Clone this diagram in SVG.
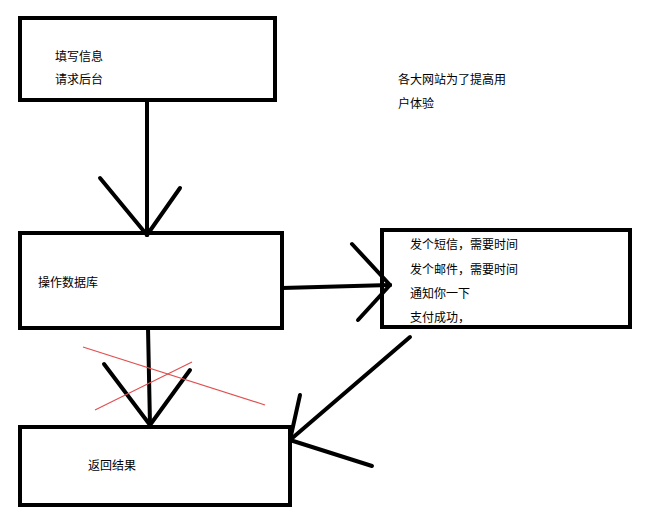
<svg xmlns="http://www.w3.org/2000/svg" width="654" height="526" viewBox="0 0 654 526">
<style>
.b{fill:#fff;stroke:#000;stroke-width:4}
.t{font-family:"Noto Sans CJK SC",sans-serif;font-size:12px;fill:#000}
.c line{stroke:#000;stroke-width:4;stroke-linecap:round}
.r line{stroke:#e05050;stroke-width:1.2}
</style>
<rect width="654" height="526" fill="#fff"/>
<g id="n1"><rect class="b" x="20" y="18" width="255" height="82"/><text class="t" x="55" y="61">填写信息</text><text class="t" x="55" y="84">请求后台</text></g>
<g id="note"><text class="t" x="398" y="84">各大网站为了提高用</text><text class="t" x="398" y="108">户体验</text></g>
<g id="n2"><rect class="b" x="20" y="233" width="262" height="95"/><text class="t" x="38" y="287">操作数据库</text></g>
<g id="n3"><rect class="b" x="382" y="230" width="248" height="97"/><text class="t" x="410" y="249">发个短信，需要时间</text><text class="t" x="410" y="274">发个邮件，需要时间</text><text class="t" x="410" y="298">通知你一下</text><text class="t" x="410" y="322">支付成功，</text></g>
<g id="n4"><rect class="b" x="20" y="427" width="270" height="78"/><text class="t" x="88" y="470">返回结果</text></g>
<g class="c">
<line x1="147" y1="100" x2="147" y2="235"/><line x1="100" y1="178" x2="147" y2="235"/><line x1="180" y1="188" x2="147" y2="235"/>
<line x1="282" y1="288" x2="390" y2="285"/><line x1="352" y1="244" x2="390" y2="285"/><line x1="358" y1="320" x2="390" y2="285"/>
<line x1="148" y1="328" x2="150" y2="425"/><line x1="104" y1="364" x2="150" y2="425"/><line x1="190" y1="370" x2="150" y2="425"/>
<line x1="410" y1="337" x2="290" y2="440"/><line x1="300" y1="395" x2="290" y2="440"/><line x1="372" y1="466" x2="290" y2="440"/>
</g>
<g class="r"><line x1="83" y1="347" x2="265" y2="405"/><line x1="95" y1="410" x2="192" y2="362"/></g>
</svg>
